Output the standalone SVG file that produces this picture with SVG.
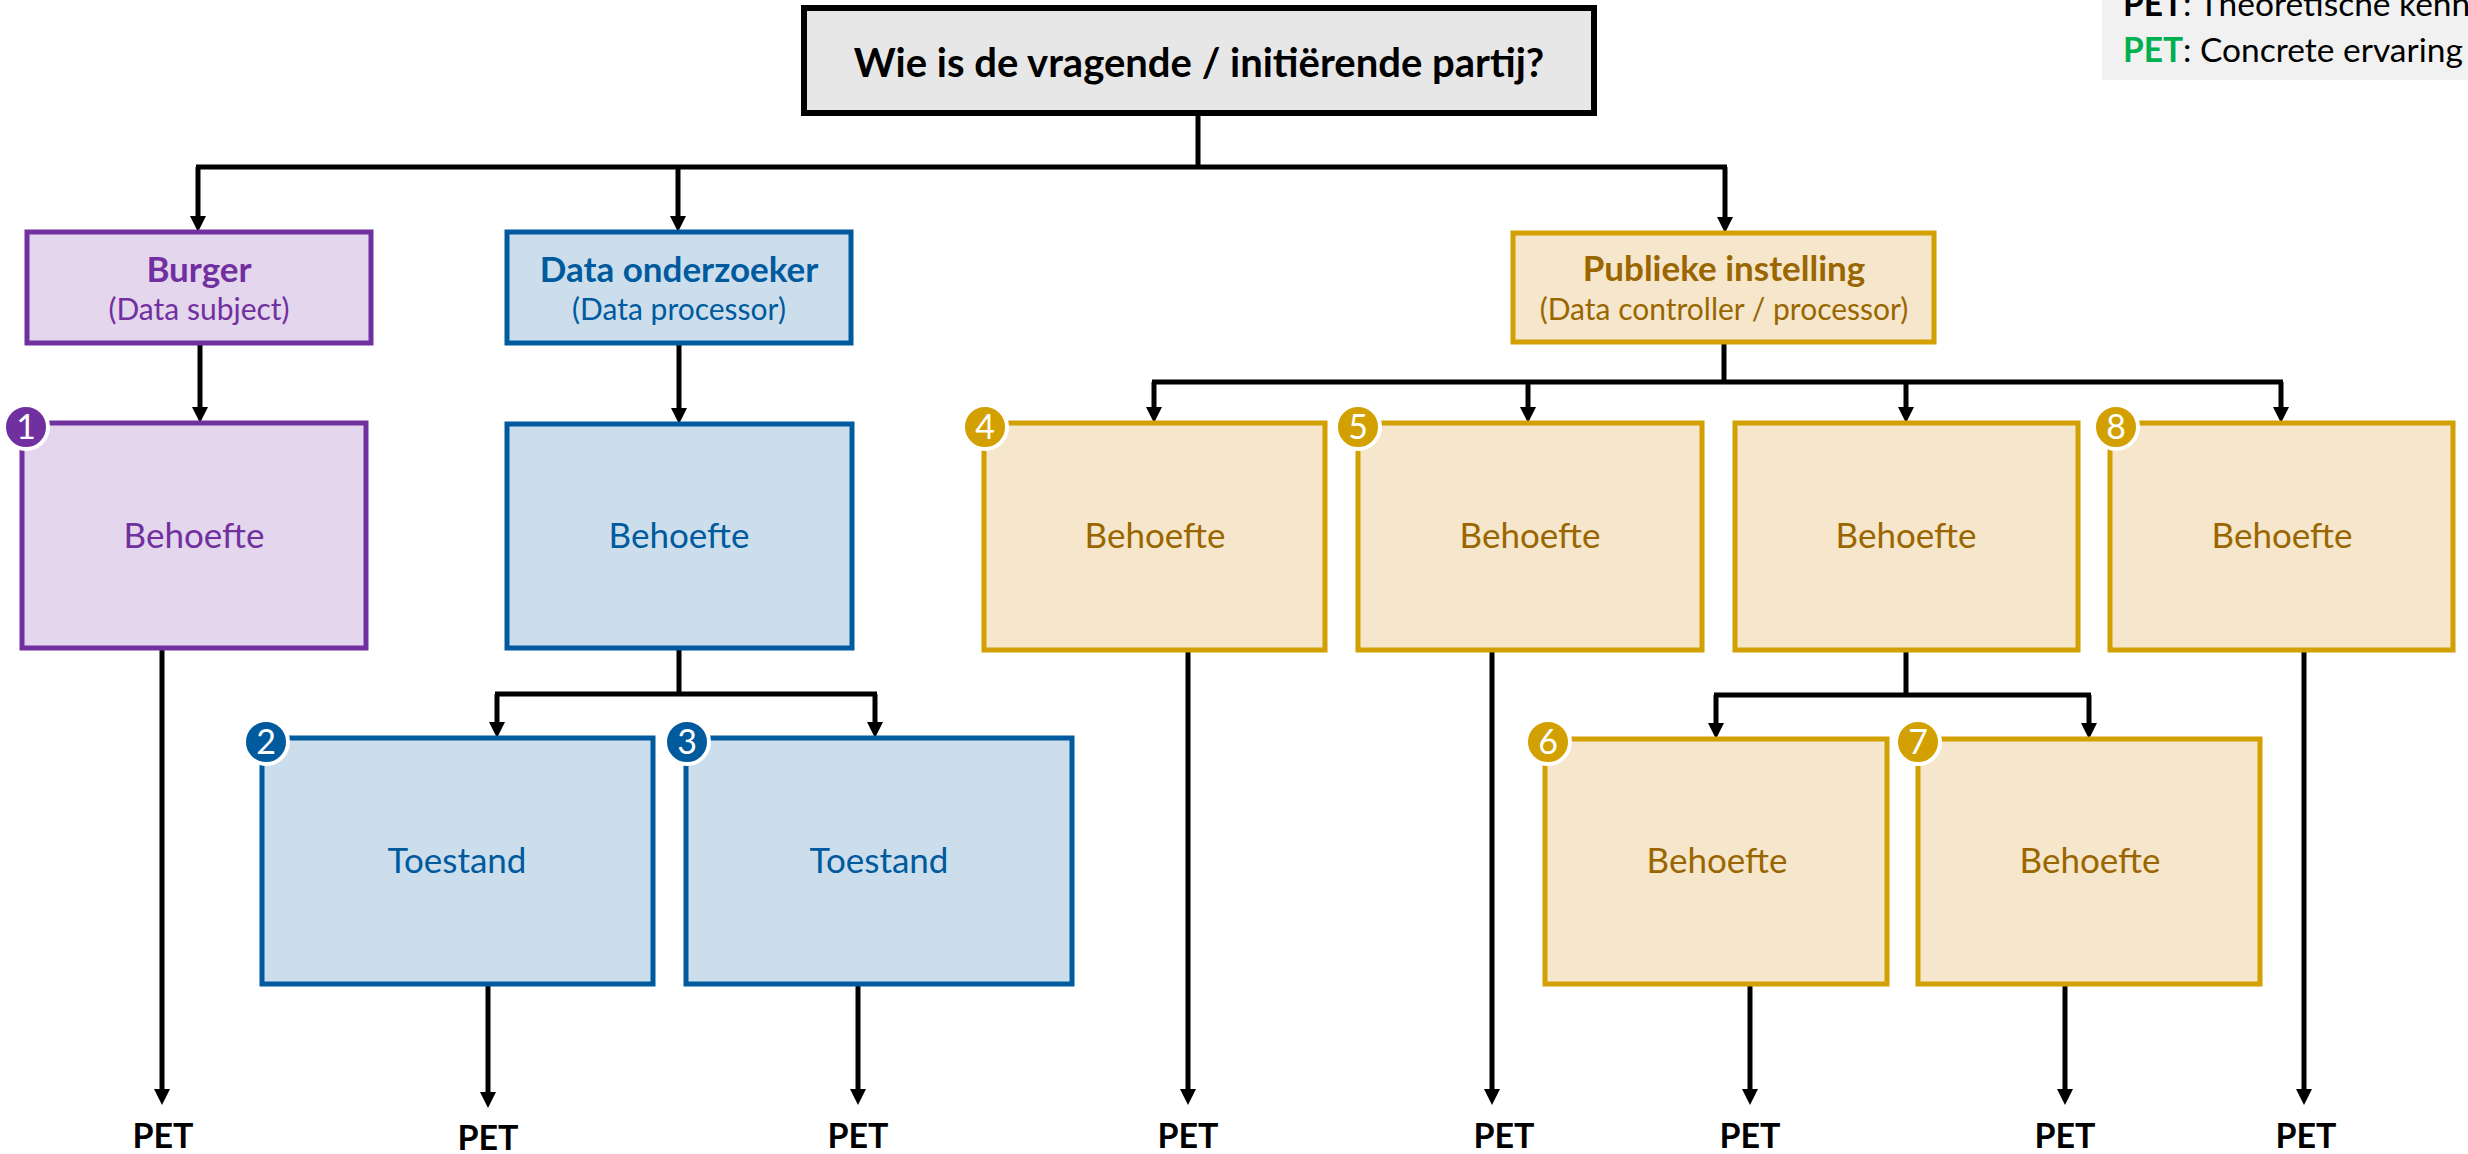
<svg xmlns="http://www.w3.org/2000/svg" width="2468" height="1154" viewBox="0 0 2468 1154">
<style>
text{font-family:Lato,"Open Sans","Liberation Sans",sans-serif;text-anchor:middle}
.bold{font-weight:700}
.box{stroke-width:5}
.top{fill:#E7E7E7;stroke:#000;stroke-width:6}
.pur{fill:#E4D6EC;stroke:#7030A0}
.blu{fill:#CCDEEC;stroke:#005A9E}
.gol{fill:#F5E6CC;stroke:#D2A000}
.tpur{fill:#7030A0}
.tblu{fill:#005A9E}
.tgol{fill:#9A6600}
.t1{font-size:35px}
.t2{font-size:30px}
.lbl{font-size:35px}
.pet{font-size:34px;font-weight:700;fill:#000}
.bp{fill:#7030A0;stroke:#fff;stroke-width:4}
.bb{fill:#005A9E;stroke:#fff;stroke-width:4}
.bg{fill:#D2A000;stroke:#fff;stroke-width:4}
.num{font-size:34px;fill:#fff}
.conn path{fill:none;stroke:#000;stroke-width:5}
.leg{font-size:33.5px;text-anchor:start;fill:#000}
</style>
<defs>
<marker id="ah" markerUnits="userSpaceOnUse" viewBox="0 0 16 16" markerWidth="16" markerHeight="16" refX="8" refY="8" orient="auto">
<path d="M0,0 L16,8 L0,16 z" fill="#000"/>
</marker>
</defs>
<rect width="2468" height="1154" fill="#fff"/>

<g id="legend">
<rect x="2102" y="0" width="366" height="80" fill="#F1F1F1"/>
<text class="leg" x="2123" y="16"><tspan font-weight="700">PET</tspan>: Theoretische kenn</text>
<text class="leg" x="2123" y="62"><tspan font-weight="700" fill="#00B050">PET</tspan>: Concrete ervaring</text>
</g>

<g class="conn" id="connectors">
<path d="M1198 113 V167 M196 167 H1727"/>
<path d="M198 167 V224" marker-end="url(#ah)"/>
<path d="M678 167 V224" marker-end="url(#ah)"/>
<path d="M1725 167 V225" marker-end="url(#ah)"/>
<path d="M200 343 V415" marker-end="url(#ah)"/>
<path d="M679 343 V416" marker-end="url(#ah)"/>
<path d="M1724 342 V382 M1152 382 H2283"/>
<path d="M1154 382 V415" marker-end="url(#ah)"/>
<path d="M1528 382 V415" marker-end="url(#ah)"/>
<path d="M1906 382 V415" marker-end="url(#ah)"/>
<path d="M2281 382 V415" marker-end="url(#ah)"/>
<path d="M679 648 V694 M495 694 H877"/>
<path d="M497 694 V730" marker-end="url(#ah)"/>
<path d="M875 694 V730" marker-end="url(#ah)"/>
<path d="M1906 650 V695 M1714 695 H2091"/>
<path d="M1716 695 V731" marker-end="url(#ah)"/>
<path d="M2089 695 V731" marker-end="url(#ah)"/>
<path d="M162 648 V1097" marker-end="url(#ah)"/>
<path d="M488 984 V1100" marker-end="url(#ah)"/>
<path d="M858 984 V1097" marker-end="url(#ah)"/>
<path d="M1188 650 V1097" marker-end="url(#ah)"/>
<path d="M1492 650 V1097" marker-end="url(#ah)"/>
<path d="M1750 984 V1097" marker-end="url(#ah)"/>
<path d="M2065 984 V1097" marker-end="url(#ah)"/>
<path d="M2304 650 V1097" marker-end="url(#ah)"/>
</g>

<g id="question">
<rect class="top" x="804" y="8" width="790" height="105"/>
<text class="bold" x="1199" y="77" font-size="40">Wie is de vragende / initiërende partij?</text>
</g>

<g id="burger">
<rect class="box pur" x="27" y="232" width="344" height="111"/>
<text class="bold t1 tpur" x="199" y="282">Burger</text>
<text class="t2 tpur" x="199" y="320">(Data subject)</text>
</g>

<g id="onderzoeker">
<rect class="box blu" x="507" y="232" width="344" height="111"/>
<text class="bold t1 tblu" x="679" y="282">Data onderzoeker</text>
<text class="t2 tblu" x="679" y="320">(Data processor)</text>
</g>

<g id="publiek">
<rect class="box gol" x="1513" y="233" width="421" height="109"/>
<text class="bold t1 tgol" x="1724" y="281">Publieke instelling</text>
<text class="t2 tgol" x="1724" y="320">(Data controller / processor)</text>
</g>

<g id="behoefte1">
<rect class="box pur" x="22" y="423" width="344" height="225"/>
<text class="lbl tpur" x="194" y="548">Behoefte</text>
<circle class="bp" cx="26" cy="427" r="22"/>
<text class="num" x="26" y="439">1</text>
</g>

<g id="behoefte-onderzoeker">
<rect class="box blu" x="507" y="424" width="345" height="224"/>
<text class="lbl tblu" x="679" y="548">Behoefte</text>
</g>

<g id="toestand2">
<rect class="box blu" x="262" y="738" width="391" height="246"/>
<text class="lbl tblu" x="457" y="873">Toestand</text>
<circle class="bb" cx="266" cy="742" r="22"/>
<text class="num" x="266" y="754">2</text>
</g>

<g id="toestand3">
<rect class="box blu" x="686" y="738" width="386" height="246"/>
<text class="lbl tblu" x="879" y="873">Toestand</text>
<circle class="bb" cx="687" cy="742" r="22"/>
<text class="num" x="687" y="754">3</text>
</g>

<g id="behoefte4">
<rect class="box gol" x="984" y="423" width="341" height="227"/>
<text class="lbl tgol" x="1155" y="548">Behoefte</text>
<circle class="bg" cx="985" cy="427" r="22"/>
<text class="num" x="985" y="439">4</text>
</g>

<g id="behoefte5">
<rect class="box gol" x="1358" y="423" width="344" height="227"/>
<text class="lbl tgol" x="1530" y="548">Behoefte</text>
<circle class="bg" cx="1358" cy="427" r="22"/>
<text class="num" x="1358" y="439">5</text>
</g>

<g id="behoefte-publiek">
<rect class="box gol" x="1735" y="423" width="343" height="227"/>
<text class="lbl tgol" x="1906" y="548">Behoefte</text>
</g>

<g id="behoefte8">
<rect class="box gol" x="2110" y="423" width="343" height="227"/>
<text class="lbl tgol" x="2282" y="548">Behoefte</text>
<circle class="bg" cx="2116" cy="427" r="22"/>
<text class="num" x="2116" y="439">8</text>
</g>

<g id="behoefte6">
<rect class="box gol" x="1545" y="739" width="342" height="245"/>
<text class="lbl tgol" x="1717" y="873">Behoefte</text>
<circle class="bg" cx="1548" cy="742" r="22"/>
<text class="num" x="1548" y="754">6</text>
</g>

<g id="behoefte7">
<rect class="box gol" x="1918" y="739" width="342" height="245"/>
<text class="lbl tgol" x="2090" y="873">Behoefte</text>
<circle class="bg" cx="1918" cy="742" r="22"/>
<text class="num" x="1918" y="754">7</text>
</g>

<g id="pet-labels">
<text class="pet" x="163" y="1148">PET</text>
<text class="pet" x="488" y="1150">PET</text>
<text class="pet" x="858" y="1148">PET</text>
<text class="pet" x="1188" y="1148">PET</text>
<text class="pet" x="1504" y="1148">PET</text>
<text class="pet" x="1750" y="1148">PET</text>
<text class="pet" x="2065" y="1148">PET</text>
<text class="pet" x="2306" y="1148">PET</text>
</g>
</svg>
